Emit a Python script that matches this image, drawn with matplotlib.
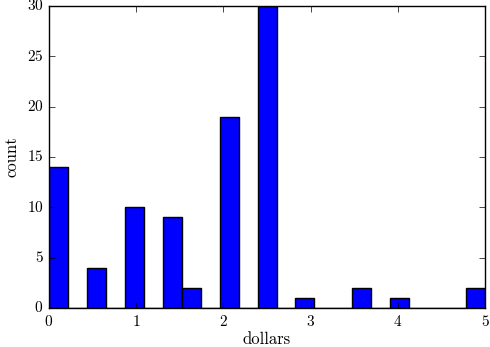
import numpy as np
import matplotlib
matplotlib.use("Agg")
import matplotlib.pyplot as plt

# Histogram data (23 equal bins from 0 to 5 dollars)
bin_edges = np.linspace(0, 5, 24)
counts = [14, 0, 4, 0, 10, 0, 9, 2, 0, 19, 0, 30, 0, 1, 0, 0, 2, 0, 1, 0, 0, 0, 2]
x_ticks = [0, 1, 2, 3, 4, 5]
y_ticks = [0, 5, 10, 15, 20, 25, 30]

plt.style.use("classic")
plt.rcParams["font.family"] = ["cmr10", "DejaVu Serif"]
plt.rcParams["axes.formatter.use_mathtext"] = True

fig = plt.figure(figsize=(4.9, 3.47), dpi=100, facecolor="white")
ax = fig.add_axes([0.1, 0.1124, 0.89, 0.8706])

ax.bar(bin_edges[:-1], counts, width=np.diff(bin_edges), align="edge",
       color="blue", edgecolor="black", linewidth=1.0)

ax.set_xlim(0, 5)
ax.set_ylim(0, 30)
ax.set_xticks(x_ticks)
ax.set_yticks(y_ticks)
ax.tick_params(labelsize=11, direction="in", top=True, right=True)
ax.set_xlabel("dollars", fontsize=12, labelpad=2)
ax.set_ylabel("count", fontsize=12)

fig.savefig("out.png", dpi=100, facecolor="white")
